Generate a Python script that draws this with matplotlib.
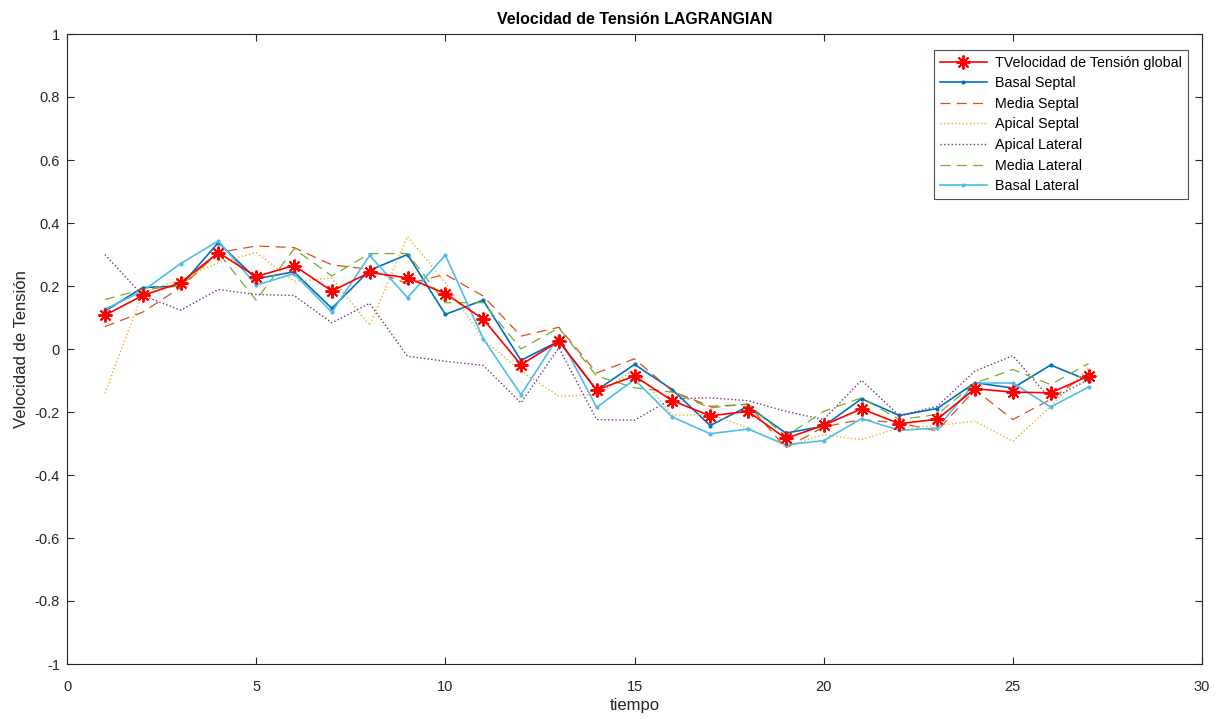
import numpy as np
import matplotlib
matplotlib.use("Agg")
import matplotlib.pyplot as plt

plt.rcParams['font.family'] = ['Liberation Sans', 'DejaVu Sans']
plt.rcParams['axes.unicode_minus'] = False

# datos
tiempo = np.arange(1, 28)

v_global = [0.107, 0.17, 0.21, 0.306, 0.23, 0.265, 0.184, 0.243, 0.226, 0.176, 0.095,
            -0.05, 0.025, -0.13, -0.086, -0.164, -0.212, -0.198, -0.284, -0.242, -0.19,
            -0.237, -0.223, -0.126, -0.137, -0.139, -0.086]
basal_septal = [0.12, 0.195, 0.2, 0.338, 0.223, 0.245, 0.129, 0.25, 0.30, 0.11, 0.155,
                -0.036, 0.025, -0.131, -0.049, -0.129, -0.243, -0.182, -0.267, -0.245, -0.158,
                -0.211, -0.189, -0.107, -0.124, -0.051, -0.1]
media_septal = [0.071, 0.117, 0.195, 0.306, 0.327, 0.322, 0.267, 0.253, 0.207, 0.237, 0.168,
                0.041, 0.069, -0.076, -0.031, -0.134, -0.182, -0.176, -0.314, -0.247, -0.224,
                -0.235, -0.26, -0.129, -0.224, -0.16, -0.076]
apical_septal = [-0.141, 0.179, 0.221, 0.274, 0.306, 0.215, 0.225, 0.075, 0.357, 0.21, 0.03,
                 -0.07, -0.15, -0.145, -0.065, -0.21, -0.208, -0.25, -0.309, -0.272, -0.288,
                 -0.25, -0.243, -0.229, -0.293, -0.182, -0.06]
apical_lateral = [0.30, 0.17, 0.123, 0.189, 0.173, 0.17, 0.083, 0.145, -0.023, -0.039, -0.052,
                  -0.171, 0.004, -0.224, -0.226, -0.158, -0.155, -0.164, -0.198, -0.224, -0.099,
                  -0.212, -0.182, -0.07, -0.021, -0.16, -0.097]
media_lateral = [0.157, 0.189, 0.2, 0.306, 0.155, 0.318, 0.232, 0.303, 0.303, 0.147, 0.147,
                 0.0, 0.067, -0.086, -0.123, -0.137, -0.187, -0.174, -0.277, -0.198, -0.155,
                 -0.224, -0.208, -0.108, -0.065, -0.113, -0.046]
basal_lateral = [0.126, 0.184, 0.271, 0.343, 0.203, 0.239, 0.117, 0.297, 0.163, 0.298, 0.033,
                 -0.145, 0.041, -0.185, -0.097, -0.216, -0.269, -0.254, -0.304, -0.291, -0.221,
                 -0.258, -0.251, -0.108, -0.108, -0.184, -0.121]

fig = plt.figure(figsize=(12.25, 7.19), dpi=100)
ax = fig.add_axes([67/1225, 1 - 664/719, (1202-67)/1225, (664-34)/719])

# asterisco estilo MATLAB (8 brazos)
ax.plot(tiempo, v_global, 'r-', marker=(8, 2, 0), lw=1.2, ms=10, mew=1.4,
        label='TVelocidad de Tensión global', zorder=10)
ax.plot(tiempo, basal_septal, '-', marker='.', ms=4, color=(0, 0.447, 0.741), lw=1.2, label='Basal Septal')
ax.plot(tiempo, media_septal, '--', color=(0.85, 0.325, 0.098), lw=0.9, dashes=(8, 5), label='Media Septal')
ax.plot(tiempo, apical_septal, ':', color=(0.929, 0.694, 0.125), lw=1.0, label='Apical Septal')
ax.plot(tiempo, apical_lateral, ':', color=(0.494, 0.184, 0.556), lw=1.0, label='Apical Lateral')
ax.plot(tiempo, media_lateral, '--', color=(0.466, 0.674, 0.188), lw=0.9, dashes=(8, 5), label='Media Lateral')
ax.plot(tiempo, basal_lateral, '-', marker='.', ms=4, color=(0.301, 0.745, 0.933), lw=1.2, label='Basal Lateral')

ax.set_xlim(0, 30)
ax.set_ylim(-1, 1)
ax.set_xticks(np.arange(0, 31, 5))
ax.set_yticks(np.round(np.arange(-1, 1.01, 0.2), 1))
ax.set_yticklabels(['-1', '-0.8', '-0.6', '-0.4', '-0.2', '0', '0.2', '0.4', '0.6', '0.8', '1'])
ax.tick_params(direction='in', top=True, right=True, labelsize=10.5, colors='#262626',
               length=5, width=0.8)
ax.tick_params(axis='x', pad=11.5)
ax.tick_params(axis='y', pad=5)
for s in ax.spines.values():
    s.set_color('#262626')
    s.set_linewidth(0.8)

ax.set_title('Velocidad de Tensión LAGRANGIAN', fontsize=11.5, fontweight='bold', pad=7)
ax.set_xlabel('tiempo', fontsize=12, color='#262626', labelpad=3)
ax.set_ylabel('Velocidad de Tensión', fontsize=12, color='#262626')

leg = ax.legend(loc='upper right', bbox_to_anchor=(0.9877, 0.9746), fontsize=10.3,
                fancybox=False, edgecolor='#262626', borderaxespad=0, handlelength=3.3,
                labelspacing=0.46, borderpad=0.4, handletextpad=0.6)
leg.get_frame().set_linewidth(0.8)

fig.savefig('out.png', dpi=100)
